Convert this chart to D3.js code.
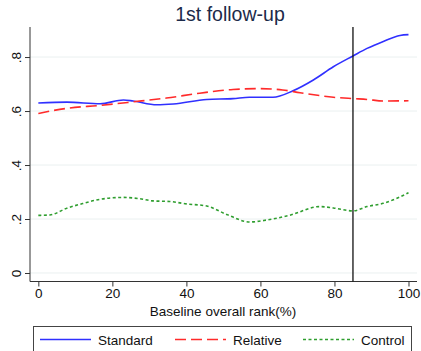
<!DOCTYPE html>
<html>
<head>
<meta charset="utf-8">
<script src="https://cdn.jsdelivr.net/npm/d3@7"></script>
<style>
  body { margin: 0; background: #fff; }
  text { font-family: "Liberation Sans", Arial, sans-serif; }
</style>
</head>
<body>
<svg id="chart" width="421" height="351"></svg>
<script>
// series values (x = baseline rank %, y = share)
const standard = [
  [0, 0.630], [7.7, 0.633], [16.7, 0.627], [23, 0.641], [25.6, 0.637],
  [32, 0.623], [36.5, 0.626], [45.5, 0.643], [52.6, 0.646], [57, 0.651],
  [63.4, 0.651], [68.8, 0.675], [74.3, 0.715], [79.7, 0.764], [85, 0.804],
  [88.8, 0.832], [93.2, 0.858], [97.7, 0.880], [100, 0.883]
];
const relative = [
  [0, 0.591], [7.7, 0.610], [16.7, 0.621], [25.6, 0.634], [34.6, 0.648],
  [43.6, 0.666], [52.6, 0.680], [59.9, 0.683], [66, 0.678], [70.7, 0.668],
  [79.7, 0.651], [85, 0.646], [88.8, 0.643], [93.2, 0.637], [100, 0.638]
];
const control = [
  [0, 0.2135], [3.1, 0.215], [7.7, 0.240], [12.2, 0.258], [16.7, 0.273],
  [23, 0.280], [27.5, 0.275], [31, 0.267], [35.5, 0.265], [40, 0.256],
  [45.5, 0.248], [50.9, 0.217], [57.1, 0.189], [61.6, 0.196], [67.9, 0.214],
  [76, 0.246], [79.7, 0.241], [85, 0.230], [88.8, 0.246], [93.2, 0.258],
  [100, 0.297]
];
const xTicks = [0, 20, 40, 60, 80, 100];
const yTicks = [0, 0.2, 0.4, 0.6, 0.8];
const yTickLabels = ["0", ".2", ".4", ".6", ".8"];
const cutoff = 85;
const seriesNames = ["Standard", "Relative", "Control"];

const svg = d3.select("#chart");

// plot area
const plotLeft = 30, plotRight = 417, plotTop = 27, plotBottom = 281.5;

const x = d3.scaleLinear().domain([-2.25, 102.3]).range([plotLeft, plotRight]);
const y = d3.scaleLinear().domain([-0.0315, 0.9113]).range([plotBottom, plotTop]);

// gridlines
svg.append("g")
  .selectAll("line")
  .data(yTicks)
  .enter().append("line")
  .attr("x1", plotLeft).attr("x2", plotRight)
  .attr("y1", d => y(d)).attr("y2", d => y(d))
  .attr("stroke", "#eaf0f0")
  .attr("stroke-width", 1);

// y axis
const yAxis = svg.append("g")
  .attr("transform", "translate(" + plotLeft + ",0)")
  .call(d3.axisLeft(y).tickValues(yTicks).tickSize(5).tickFormat((d, i) => yTickLabels[i]));
yAxis.select(".domain").attr("stroke", "#333").attr("d", "M0," + plotTop + "V" + plotBottom);
yAxis.selectAll(".tick line").attr("stroke", "#333");
yAxis.selectAll(".tick text")
  .attr("font-size", 13.5)
  .attr("fill", "#111")
  .attr("text-anchor", "middle")
  .attr("x", 0).attr("dy", 0)
  .attr("transform", "translate(-14,0) rotate(-90)")
  .attr("dominant-baseline", "central");

// x axis
const xAxis = svg.append("g")
  .attr("transform", "translate(0," + plotBottom + ")")
  .call(d3.axisBottom(x).tickValues(xTicks).tickSize(5));
xAxis.select(".domain").attr("stroke", "#333").attr("d", "M" + plotLeft + ",0H" + plotRight);
xAxis.selectAll(".tick line").attr("stroke", "#333");
xAxis.selectAll(".tick text").attr("font-size", 13.5).attr("fill", "#111").attr("y", 7).attr("dy", "0.71em");

svg.append("text")
  .attr("x", 223).attr("y", 316)
  .attr("text-anchor", "middle")
  .attr("font-size", 13.5)
  .attr("fill", "#111")
  .text("Baseline overall rank(%)");

// title
svg.append("text")
  .attr("x", 230).attr("y", 21)
  .attr("text-anchor", "middle")
  .attr("font-size", 19.5)
  .attr("fill", "#1c2a4a")
  .text("1st follow-up");

// lines
const line = d3.line()
  .x(d => x(d[0]))
  .y(d => y(d[1]))
  .curve(d3.curveMonotoneX);

const styles = [
  { data: standard, color: "#3030ff", dash: null },
  { data: relative, color: "#ff2a2a", dash: "11,5" },
  { data: control, color: "#2f9e2f", dash: "3,2.5" }
];

styles.forEach(s => {
  svg.append("path")
    .datum(s.data)
    .attr("d", line)
    .attr("fill", "none")
    .attr("stroke", s.color)
    .attr("stroke-width", 1.6)
    .attr("stroke-dasharray", s.dash);
});

// cutoff line
svg.append("line")
  .attr("x1", x(cutoff)).attr("x2", x(cutoff))
  .attr("y1", plotTop).attr("y2", plotBottom)
  .attr("stroke", "#111")
  .attr("stroke-width", 1.3);

// legend
svg.append("rect")
  .attr("x", 33.5).attr("y", 326.5)
  .attr("width", 378).attr("height", 40)
  .attr("fill", "#fff")
  .attr("stroke", "#444");

const legendX = [40, 175, 303];
seriesNames.forEach((name, i) => {
  const g = svg.append("g").attr("transform", "translate(" + legendX[i] + ",339.5)");
  g.append("line")
    .attr("x1", 0).attr("x2", 51)
    .attr("stroke", styles[i].color)
    .attr("stroke-width", 1.6)
    .attr("stroke-dasharray", styles[i].dash);
  g.append("text")
    .attr("x", 58).attr("y", 5)
    .attr("font-size", 13.5)
    .attr("fill", "#111")
    .text(name);
});
</script>
</body>
</html>
